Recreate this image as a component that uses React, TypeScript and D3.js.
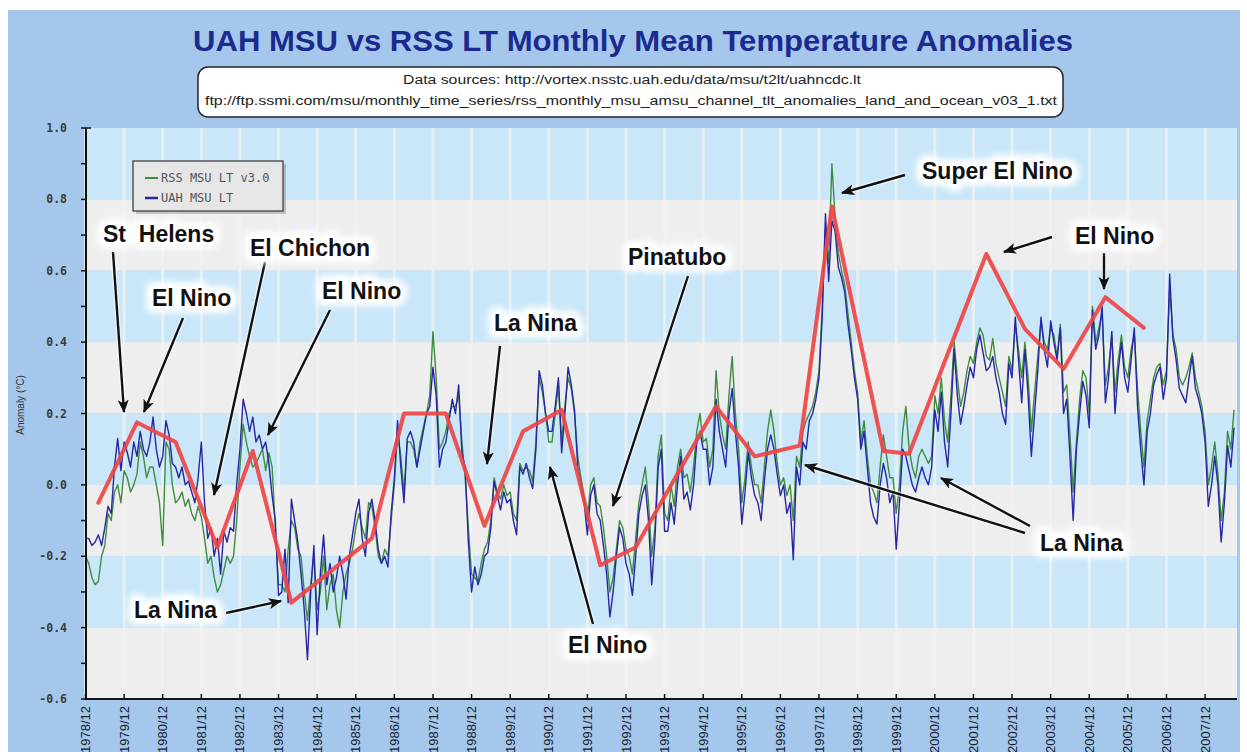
import React from 'react'
import * as d3 from 'd3'

const width = 1247
const height = 752

// monthly anomalies (°C), first value is 1978/12, last is 2008/09
const uahMonthly = [
  -0.15,
  -0.15, -0.17, -0.16, -0.14, -0.17, -0.12, -0.06, -0.08, 0.05, 0.13, 0.04, 0.12, // 1979
  0.09, 0.05, 0.12, 0.08, 0.15, 0.10, 0.08, 0.12, 0.19, 0.10, 0.05, 0.08, // 1980
  0.18, 0.14, 0.06, 0.05, 0.02, 0.05, 0.00, 0.01, -0.02, -0.05, 0.02, 0.12, // 1981
  -0.05, -0.15, -0.12, -0.20, -0.15, -0.25, -0.13, -0.16, -0.12, -0.13, 0.00, 0.10, // 1982
  0.24, 0.20, 0.15, 0.19, 0.12, 0.14, 0.10, 0.12, 0.06, -0.03, -0.10, -0.31, // 1983
  -0.30, -0.18, -0.33, -0.04, -0.10, -0.16, -0.25, -0.35, -0.49, -0.30, -0.17, -0.42, // 1984
  -0.25, -0.14, -0.28, -0.22, -0.30, -0.26, -0.20, -0.25, -0.32, -0.20, -0.14, -0.08, // 1985
  -0.04, -0.15, -0.20, -0.08, -0.04, -0.10, -0.18, -0.22, -0.20, -0.23, -0.08, 0.02, // 1986
  0.18, 0.05, -0.05, 0.13, 0.15, 0.12, 0.05, 0.10, 0.15, 0.20, 0.22, 0.33, // 1987
  0.25, 0.05, 0.10, 0.12, 0.18, 0.24, 0.20, 0.28, 0.09, 0.05, -0.16, -0.30, // 1988
  -0.23, -0.28, -0.25, -0.20, -0.19, -0.12, 0.01, -0.03, -0.07, -0.02, -0.05, -0.04, // 1989
  -0.10, -0.14, 0.05, 0.03, 0.06, 0.02, -0.01, 0.10, 0.32, 0.28, 0.20, 0.15, // 1990
  0.15, 0.22, 0.30, 0.09, 0.20, 0.33, 0.28, 0.21, 0.05, 0.00, -0.05, -0.14, // 1991
  -0.03, 0.00, -0.08, -0.10, -0.17, -0.25, -0.37, -0.30, -0.20, -0.12, -0.15, -0.22, // 1992
  -0.25, -0.31, -0.20, -0.08, -0.03, 0.00, -0.10, -0.28, -0.15, 0.05, 0.10, -0.13, // 1993
  -0.13, -0.05, -0.11, 0.00, 0.08, -0.04, -0.02, -0.07, 0.00, 0.12, 0.15, 0.10, // 1994
  0.10, 0.00, 0.05, 0.24, 0.15, 0.10, 0.05, 0.20, 0.27, 0.15, 0.05, -0.11, // 1995
  -0.02, 0.09, 0.02, -0.03, -0.05, -0.10, 0.01, 0.10, 0.14, 0.10, 0.03, -0.03, // 1996
  0.00, -0.08, -0.05, -0.21, 0.05, 0.00, 0.12, 0.10, 0.18, 0.20, 0.24, 0.30, // 1997
  0.47, 0.76, 0.57, 0.74, 0.71, 0.61, 0.58, 0.54, 0.45, 0.38, 0.30, 0.24, // 1998
  0.10, 0.15, 0.05, -0.05, -0.09, -0.11, 0.00, 0.06, 0.02, -0.05, -0.02, -0.18, // 1999
  -0.05, 0.10, 0.08, 0.04, 0.00, -0.02, 0.02, 0.05, 0.02, 0.00, 0.05, 0.21, // 2000
  0.15, 0.26, 0.12, 0.05, 0.20, 0.38, 0.25, 0.17, 0.22, 0.28, 0.33, 0.30, // 2001
  0.38, 0.42, 0.37, 0.32, 0.33, 0.36, 0.30, 0.26, 0.20, 0.17, 0.34, 0.30, // 2002
  0.47, 0.35, 0.23, 0.38, 0.25, 0.08, 0.20, 0.32, 0.47, 0.38, 0.33, 0.46, // 2003
  0.40, 0.35, 0.44, 0.20, 0.24, 0.08, -0.10, 0.10, 0.20, 0.29, 0.25, 0.16, // 2004
  0.49, 0.38, 0.42, 0.50, 0.23, 0.30, 0.43, 0.20, 0.32, 0.40, 0.30, 0.26, // 2005
  0.35, 0.44, 0.22, 0.10, 0.00, 0.15, 0.20, 0.28, 0.31, 0.33, 0.24, 0.30, // 2006
  0.59, 0.41, 0.35, 0.27, 0.25, 0.23, 0.30, 0.36, 0.27, 0.24, 0.20, 0.12, // 2007
  -0.06, 0.00, 0.08, 0.00, -0.16, -0.05, 0.11, 0.05, 0.16 // 2008
]

const rssMonthly = [
  -0.20,
  -0.22, -0.26, -0.28, -0.27, -0.20, -0.17, -0.08, -0.10, -0.02, 0.00, -0.05, 0.04, // 1979
  0.02, -0.02, 0.00, 0.03, 0.12, 0.08, 0.02, 0.05, 0.05, 0.00, -0.05, -0.17, // 1980
  0.12, 0.10, 0.00, -0.05, -0.04, -0.02, -0.06, -0.04, -0.08, -0.10, -0.06, -0.09, // 1981
  -0.15, -0.22, -0.20, -0.26, -0.30, -0.28, -0.24, -0.20, -0.22, -0.20, -0.10, 0.05, // 1982
  0.17, 0.12, 0.08, 0.05, 0.06, 0.08, 0.10, 0.04, 0.09, 0.05, -0.12, -0.28, // 1983
  -0.28, -0.30, -0.18, -0.10, -0.12, -0.18, -0.20, -0.30, -0.38, -0.28, -0.20, -0.35, // 1984
  -0.30, -0.20, -0.35, -0.28, -0.25, -0.35, -0.40, -0.30, -0.25, -0.22, -0.18, -0.12, // 1985
  -0.08, -0.12, -0.15, -0.05, -0.06, -0.12, -0.20, -0.22, -0.18, -0.20, -0.10, 0.00, // 1986
  0.15, 0.08, -0.02, 0.12, 0.12, 0.10, 0.05, 0.12, 0.16, 0.20, 0.25, 0.43, // 1987
  0.30, 0.10, 0.12, 0.15, 0.20, 0.22, 0.22, 0.25, 0.12, 0.02, -0.12, -0.25, // 1988
  -0.26, -0.27, -0.22, -0.18, -0.16, -0.10, 0.02, -0.02, -0.04, 0.00, -0.03, -0.02, // 1989
  -0.08, -0.10, 0.06, 0.04, 0.05, 0.04, 0.01, 0.12, 0.30, 0.26, 0.20, 0.12, // 1990
  0.12, 0.20, 0.28, 0.12, 0.22, 0.30, 0.27, 0.20, 0.08, 0.02, -0.03, -0.10, // 1991
  0.00, 0.02, -0.05, -0.06, -0.12, -0.20, -0.30, -0.26, -0.18, -0.10, -0.12, -0.18, // 1992
  -0.20, -0.25, -0.15, -0.05, 0.00, 0.05, -0.05, -0.20, -0.12, 0.08, 0.14, -0.08, // 1993
  -0.10, 0.00, -0.06, 0.05, 0.10, 0.02, 0.03, -0.02, 0.05, 0.15, 0.20, 0.12, // 1994
  0.13, 0.05, 0.10, 0.32, 0.20, 0.14, 0.10, 0.25, 0.36, 0.20, 0.10, -0.05, // 1995
  0.02, 0.12, 0.05, 0.00, 0.00, -0.05, 0.05, 0.15, 0.21, 0.15, 0.06, 0.00, // 1996
  0.02, -0.03, 0.00, -0.10, 0.08, 0.05, 0.15, 0.18, 0.20, 0.22, 0.26, 0.32, // 1997
  0.50, 0.72, 0.62, 0.90, 0.75, 0.65, 0.60, 0.56, 0.48, 0.40, 0.32, 0.26, // 1998
  0.12, 0.18, 0.08, 0.00, -0.02, -0.05, 0.05, 0.14, 0.08, 0.02, 0.02, -0.08, // 1999
  0.00, 0.15, 0.22, 0.10, 0.05, 0.02, 0.08, 0.10, 0.08, 0.06, 0.08, 0.25, // 2000
  0.20, 0.30, 0.18, 0.12, 0.25, 0.40, 0.30, 0.22, 0.26, 0.32, 0.36, 0.34, // 2001
  0.40, 0.44, 0.42, 0.36, 0.35, 0.41, 0.34, 0.30, 0.26, 0.22, 0.36, 0.32, // 2002
  0.45, 0.38, 0.30, 0.40, 0.30, 0.15, 0.26, 0.36, 0.46, 0.40, 0.38, 0.44, // 2003
  0.42, 0.36, 0.45, 0.26, 0.28, 0.14, -0.02, 0.12, 0.24, 0.32, 0.30, 0.20, // 2004
  0.50, 0.40, 0.44, 0.48, 0.28, 0.33, 0.42, 0.26, 0.35, 0.42, 0.33, 0.30, // 2005
  0.38, 0.42, 0.27, 0.15, 0.05, 0.18, 0.24, 0.30, 0.33, 0.34, 0.28, 0.32, // 2006
  0.55, 0.42, 0.38, 0.30, 0.28, 0.30, 0.33, 0.37, 0.30, 0.26, 0.22, 0.15, // 2007
  0.00, 0.05, 0.12, 0.03, -0.10, -0.02, 0.15, 0.10, 0.21 // 2008
]

// hand drawn red line: turning points
const trendDates = ['1979/04', '1980/04', '1981/04', '1982/05', '1983/04', '1984/04', '1986/05', '1987/03',
  '1988/04', '1989/04', '1990/04', '1991/04', '1992/04', '1993/03', '1995/04', '1996/04', '1997/06',
  '1998/04', '1999/08', '2000/04', '2002/04', '2003/04', '2004/04', '2005/05', '2005/10', '2006/05']
const trendValues = [-0.05, 0.175, 0.12, -0.175, 0.095, -0.33, -0.15, 0.2, 0.2, -0.115, 0.15, 0.21,
  -0.225, -0.175, 0.22, 0.08, 0.11, 0.78, 0.095, 0.087, 0.647, 0.437, 0.325, 0.526, 0.49, 0.44]

const tickLabels = ['1978/12', '1979/12', '1980/12', '1981/12', '1982/12', '1983/12', '1984/12', '1985/12',
  '1986/12', '1987/12', '1988/12', '1989/12', '1990/12', '1991/12', '1992/12', '1993/12', '1994/12',
  '1995/12', '1996/12', '1997/12', '1998/12', '1999/12', '2000/12', '2001/12', '2002/12', '2003/12',
  '2004/12', '2005/12', '2006/12', '2007/12']
const yTickValues = [1.0, 0.8, 0.6, 0.4, 0.2, 0.0, -0.2, -0.4, -0.6]
const yTickLabels = ['1.0', '0.8', '0.6', '0.4', '0.2', '0.0', '-0.2', '-0.4', '-0.6']

// annotations (pixel layout)
const notes = [
  { t: 'St\u00a0 Helens', x: 103, y: 242 },
  { t: 'El Nino', x: 152, y: 306 },
  { t: 'El Chichon', x: 250, y: 256 },
  { t: 'El Nino', x: 322, y: 299 },
  { t: 'La Nina', x: 494, y: 331 },
  { t: 'Pinatubo', x: 628, y: 265 },
  { t: 'Super El Nino', x: 922, y: 179 },
  { t: 'El Nino', x: 1075, y: 244 },
  { t: 'La Nina', x: 134, y: 618 },
  { t: 'El Nino', x: 568, y: 653 },
  { t: 'La Nina', x: 1040, y: 551 }
]
const arrows = [
  [113, 252, 124, 412], [183, 318, 144, 412], [265, 262, 214, 495], [330, 310, 268, 435],
  [226, 613, 281, 601], [500, 346, 487, 464], [593, 624, 550, 467], [688, 276, 613, 506],
  [905, 175, 842, 193], [1052, 237, 1004, 252], [1104, 253, 1104, 289],
  [1025, 533, 805, 465], [1030, 526, 941, 478]
]

const monthIndex = (s: string) => {
  const [yy, mm] = s.split('/').map(Number)
  return (yy - 1978) * 12 + mm - 12
}

const plotL = 86
const plotR = 1237
const x = d3.scaleLinear().domain([0, 357.3]).range([85.5, 1235])
const y = d3.scaleLinear().domain([-0.6, 1.0]).range([699, 128])

const monthLine = d3.line<number>().x((d, i) => x(i)).y(d => y(d))
const trendLine = d3.line<number>().x((d, i) => x(monthIndex(trendDates[i]))).y(d => y(d))

const sans = 'Arial, "Liberation Sans", sans-serif'
const mono = '"DejaVu Sans Mono", "Liberation Mono", monospace'

const App = () => {
  const bands = d3.range(0, 8).map(k => ({ top: 1.0 - k * 0.2, blue: k % 2 === 0 }))
  const minor = d3.range(-6, 11).map(v => v / 10)
  return (
    <svg width={width} height={height} style={{ position: 'absolute', left: 0, top: 0, display: 'block' }}>
      <defs>
        <filter id="glow" x="-30%" y="-60%" width="160%" height="220%">
          <feGaussianBlur stdDeviation="3" />
        </filter>
        <marker id="ah" viewBox="0 0 12 10" refX="11" refY="5" markerWidth="5.5" markerHeight="4.6" orient="auto">
          <path d="M0,0 L12,5 L0,10 L3,5 z" fill="#111" />
        </marker>
      </defs>
      <rect x={0} y={0} width={width} height={height} fill="#fff" />
      <rect x={8} y={10} width={1232} height={742} fill="#a6c7ec" />

      {/* plot background */}
      {bands.map((b, k) => (
        <rect key={k} x={plotL} y={y(b.top)} width={plotR - plotL} height={y(b.top - 0.2) - y(b.top)}
          fill={b.blue ? '#c9e7f9' : '#eeeeee'} />
      ))}
      {tickLabels.map((l, i) => (
        <line key={l} x1={x(i * 12)} x2={x(i * 12)} y1={128} y2={699} stroke="#f2f2f2" strokeOpacity={0.7} strokeWidth={3} />
      ))}

      {/* title + source box */}
      <text x={633} y={51} textAnchor="middle" fontFamily={sans} fontWeight="bold" fontSize={30} fill="#1b2a8e"
        textLength={880} lengthAdjust="spacingAndGlyphs">UAH MSU vs RSS LT Monthly Mean Temperature Anomalies</text>
      <rect x={198} y={67} width={865} height={50} rx={10} fill="#fff" stroke="#222" strokeWidth={1.5} />
      <text x={632} y={84} textAnchor="middle" fontFamily={sans} fontSize={12.5} fill="#222"
        textLength={458} lengthAdjust="spacingAndGlyphs">Data sources: http://vortex.nsstc.uah.edu/data/msu/t2lt/uahncdc.lt</text>
      <text x={631} y={105} textAnchor="middle" fontFamily={sans} fontSize={12.5} fill="#222"
        textLength={852} lengthAdjust="spacingAndGlyphs">ftp://ftp.ssmi.com/msu/monthly_time_series/rss_monthly_msu_amsu_channel_tlt_anomalies_land_and_ocean_v03_1.txt</text>

      {/* series */}
      <path d={monthLine(rssMonthly) || ''} fill="none" stroke="#3e8d3e" strokeWidth={1.4} strokeLinejoin="round" />
      <path d={monthLine(uahMonthly) || ''} fill="none" stroke="#2626a6" strokeWidth={1.4} strokeLinejoin="round" />
      <path d={trendLine(trendValues) || ''} fill="none" stroke="#f04444" strokeOpacity={0.92} strokeWidth={4}
        strokeLinejoin="round" strokeLinecap="round" />

      {/* axes */}
      <line x1={plotL} x2={plotL} y1={128} y2={700} stroke="#111" strokeWidth={2} />
      <line x1={plotL} x2={plotR} y1={699} y2={699} stroke="#111" strokeWidth={2} />
      {minor.map(v => (
        <line key={v} x1={plotL - 5} x2={plotL} y1={y(v)} y2={y(v)} stroke="#111" strokeWidth={1.5} />
      ))}
      <line x1={plotL} x2={plotL + 5} y1={128} y2={128} stroke="#111" strokeWidth={1.5} />
      {yTickValues.map((v, i) => (
        <text key={v} x={67} y={y(v)} dy="0.35em" textAnchor="end" fontFamily={mono} fontWeight="bold"
          fontSize={11.5} fill="#3a3a3a">{yTickLabels[i]}</text>
      ))}
      <text transform="translate(24,405) rotate(-90)" textAnchor="middle" fontFamily={sans} fontSize={10} fill="#333">Anomaly (°C)</text>
      {tickLabels.map((l, i) => (
        <g key={l}>
          <line x1={x(i * 12)} x2={x(i * 12)} y1={694} y2={699} stroke="#111" strokeWidth={1.5} />
          <text transform={`translate(${x(i * 12)},706) rotate(-90)`} dy="0.35em" textAnchor="end"
            fontFamily={sans} fontSize={13} fill="#15222f">{l}</text>
        </g>
      ))}

      {/* legend */}
      <rect x={136} y={164} width={150} height={50} fill="#888" opacity={0.45} />
      <rect x={133} y={161} width={150} height={50} fill="#e6e6e6" stroke="#555" strokeWidth={1.5} />
      <line x1={145} x2={158} y1={178} y2={178} stroke="#3e8d3e" strokeWidth={2} />
      <line x1={145} x2={158} y1={198} y2={198} stroke="#2626a6" strokeWidth={2.5} />
      <text x={161} y={182} fontFamily={mono} fontSize={12} fill="#555">RSS MSU LT v3.0</text>
      <text x={161} y={202} fontFamily={mono} fontSize={12} fill="#555">UAH MSU LT</text>

      {/* arrows */}
      {arrows.map((a, i) => (
        <line key={'h' + i} x1={a[0]} y1={a[1]} x2={a[2]} y2={a[3]} stroke="#fff" strokeOpacity={0.6} strokeWidth={5} />
      ))}
      {arrows.map((a, i) => (
        <line key={'a' + i} x1={a[0]} y1={a[1]} x2={a[2]} y2={a[3]} stroke="#111" strokeWidth={2.4} markerEnd="url(#ah)" />
      ))}

      {/* annotation labels */}
      {notes.map((n, i) => (
        <g key={i} fontFamily={sans} fontWeight="bold" fontSize={23}>
          <text x={n.x} y={n.y} fill="#fff" stroke="#fff" strokeWidth={14} strokeLinejoin="round" filter="url(#glow)">{n.t}</text>
          <text x={n.x} y={n.y} fill="#111" stroke="#fff" strokeWidth={4} strokeLinejoin="round" paintOrder="stroke">{n.t}</text>
        </g>
      ))}
    </svg>
  )
}

export default App
